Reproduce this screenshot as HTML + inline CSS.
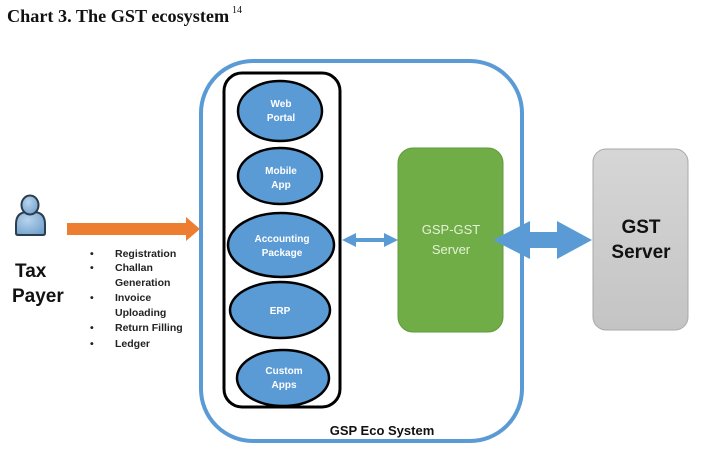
<!DOCTYPE html>
<html><head><meta charset="utf-8"><style>
html,body{margin:0;padding:0;background:#fff;}
svg{display:block;}
</style></head><body>
<svg width="701" height="452" viewBox="0 0 701 452" xmlns="http://www.w3.org/2000/svg">
<defs>
<linearGradient id="gray" x1="0" y1="0" x2="0" y2="1">
<stop offset="0" stop-color="#d6d6d6"/><stop offset="1" stop-color="#c4c4c4"/>
</linearGradient>
<radialGradient id="pers" cx="0.4" cy="0.35" r="0.8">
<stop offset="0" stop-color="#b8d4ee"/><stop offset="1" stop-color="#6c9cc8"/>
</radialGradient>
</defs>
<text x="7" y="22" font-family="Liberation Serif, serif" font-weight="bold" font-size="18.2" fill="#111">Chart 3. The GST ecosystem</text>
<text x="232" y="13" font-family="Liberation Serif, serif" font-size="10" fill="#111">14</text>

<!-- outer blue rounded rect -->
<rect x="201" y="61" width="321" height="380" rx="52" ry="52" fill="none" stroke="#5b9bd5" stroke-width="4"/>

<!-- inner black rect -->
<rect x="224" y="73" width="116" height="334" rx="18" ry="18" fill="none" stroke="#000" stroke-width="3"/>

<!-- ellipses -->
<g stroke="#000" stroke-width="2.5" fill="#5b9bd5">
<ellipse cx="280" cy="111" rx="42" ry="30"/>
<ellipse cx="280" cy="176" rx="42" ry="28"/>
<ellipse cx="281" cy="245" rx="53" ry="32"/>
<ellipse cx="280" cy="310" rx="50" ry="28"/>
<ellipse cx="283" cy="378" rx="46" ry="28"/>
</g>
<g font-family="Liberation Sans, sans-serif" font-weight="bold" font-size="10" fill="#fff" text-anchor="middle">
<text x="281" y="107">Web</text><text x="281" y="121">Portal</text>
<text x="281" y="174">Mobile</text><text x="281" y="188">App</text>
<text x="282" y="242">Accounting</text><text x="282" y="256">Package</text>
<text x="280" y="314">ERP</text>
<text x="284" y="374">Custom</text><text x="284" y="388">Apps</text>
</g>

<!-- green server -->
<rect x="398" y="148" width="105" height="184" rx="15" ry="15" fill="#70ad47" stroke="#5f9a3c" stroke-width="1"/>
<g font-family="Liberation Sans, sans-serif" font-size="13" fill="#e4f2d8" text-anchor="middle">
<text x="451" y="234">GSP-GST</text><text x="451" y="254">Server</text>
</g>

<!-- gray server -->
<rect x="593" y="149" width="95" height="181" rx="13" ry="13" fill="url(#gray)" stroke="#a8a8a8" stroke-width="1"/>
<g font-family="Liberation Sans, sans-serif" font-weight="bold" font-size="19" fill="#111" text-anchor="middle">
<text x="641" y="233">GST</text><text x="641" y="258">Server</text>
</g>

<!-- small double arrow -->
<polygon points="342,240 356,233 356,238 384,238 384,233 398,240 384,247 384,242 356,242 356,247" fill="#5b9bd5"/>

<!-- big double arrow -->
<polygon points="493,240 530,221 530,232 557,232 557,221 592,240 557,259 557,248 530,248 530,259" fill="#5b9bd5"/>

<!-- orange arrow -->
<polygon points="67,223 186,223 186,217 200,229 186,241 186,235 67,235" fill="#ed7d31"/>

<!-- person icon -->
<g stroke="#2b3e50" stroke-width="2" fill="url(#pers)">
<path d="M16,233 L16,224 Q16,213 26,212 L35,212 Q45,213 45,224 L45,233 Q45,235 43,235 L18,235 Q16,235 16,233 Z"/>
<ellipse cx="30" cy="205" rx="8.5" ry="9.5"/>
</g>

<g font-family="Liberation Sans, sans-serif" font-weight="bold" font-size="19" fill="#111">
<text x="15" y="277">Tax</text><text x="12" y="302">Payer</text>
</g>

<g font-family="Liberation Sans, sans-serif" font-weight="bold" font-size="10.5" fill="#222">
<text x="90" y="257">•</text><text x="115" y="257">Registration</text>
<text x="90" y="271">•</text><text x="115" y="271">Challan</text>
<text x="115" y="286">Generation</text>
<text x="90" y="301">•</text><text x="115" y="301">Invoice</text>
<text x="115" y="316">Uploading</text>
<text x="90" y="331">•</text><text x="115" y="331">Return Filling</text>
<text x="90" y="347">•</text><text x="115" y="347">Ledger</text>
</g>

<text x="382" y="435" font-family="Liberation Sans, sans-serif" font-weight="bold" font-size="13" fill="#111" text-anchor="middle">GSP Eco System</text>
</svg>
</body></html>
